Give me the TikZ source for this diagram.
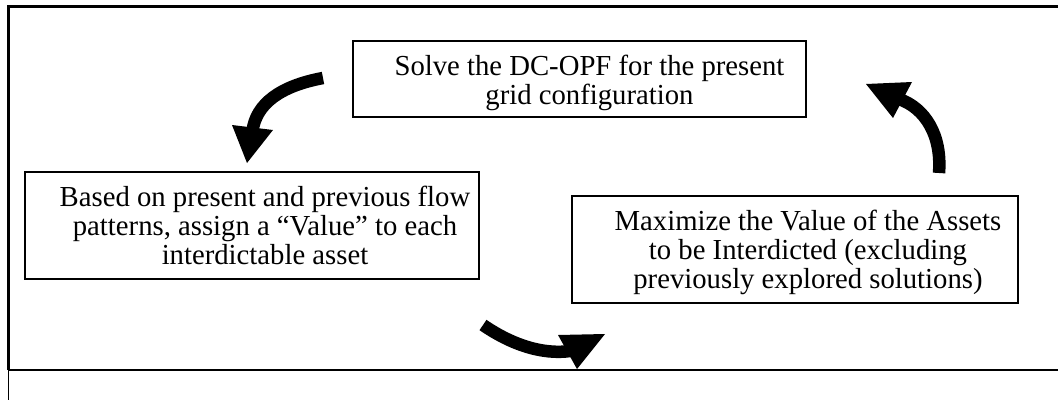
\documentclass[tikz,border=0pt]{standalone}
\usepackage{fontspec}
\setmainfont{Liberation Serif}[FakeStretch=0.99]
\begin{document}
\begin{tikzpicture}[x=1pt,y=-1pt,
  box/.style={draw, line width=1.2pt, inner sep=0pt, outer sep=0pt, anchor=north west},
  txt/.style={inner sep=0pt, align=center, anchor=north, font=\fontsize{29pt}{29pt}\selectfont},
  shaft/.style={line width=12.5pt, line cap=butt},
  head/.style={fill=black}]
\useasboundingbox (0,0) rectangle (1058,400);
% frame
\draw[line width=3pt] (7,6.5) -- (1058,6.5);
\draw[line width=3pt] (8.5,5) -- (8.5,370);
\draw[line width=1pt] (8.3,370) -- (8.3,400);
\draw[line width=1.2pt] (8,370) -- (1058,370);
% boxes
\node[box, minimum width=453pt, minimum height=76pt] (top) at (353,41) {};
\node[box, minimum width=454pt, minimum height=107pt] (left) at (25,172) {};
\node[box, minimum width=446pt, minimum height=107pt] (right) at (572,196) {};
% texts
\node[txt] (toptext) at (589.5,55) {Solve the DC-OPF for the present\\grid configuration};
\node[txt] (lefttext) at (265,186) {Based on present and previous flow\\patterns, assign a “Value” to each\\interdictable asset};
\node[txt] (righttext) at (808,210) {Maximize the Value of the Assets\\to be Interdicted (excluding\\previously explored solutions)};
% arrow 1: top -> left
\coordinate (a1s) at (323,78);
\coordinate (a1e) at (252.5,131);
\coordinate (a1p) at (232,125);
\coordinate (a1q) at (273,130);
\coordinate (a1t) at (247,163);
\draw[shaft] (a1s) .. controls (280,86) and (256,104) .. (a1e);
\fill[head] (a1p) -- (a1q) -- (a1t) -- cycle;
% arrow 2: right -> top
\coordinate (a2s) at (939,173);
\coordinate (a2e) at (899,99);
\coordinate (a2p) at (912,82);
\coordinate (a2q) at (893,118);
\coordinate (a2t) at (866,84);
\draw[shaft] (a2s) .. controls (942,135) and (925,108) .. (a2e);
\fill[head] (a2p) -- (a2q) -- (a2t) -- cycle;
% arrow 3: left -> right
\coordinate (a3s) at (483,325);
\coordinate (a3e) at (576,350);
\coordinate (a3p) at (558,335);
\coordinate (a3q) at (605,334);
\coordinate (a3t) at (577,369);
\draw[shaft] (a3s) .. controls (515,347) and (548,356) .. (a3e);
\fill[head] (a3p) -- (a3q) -- (a3t) -- cycle;
\end{tikzpicture}
\end{document}
